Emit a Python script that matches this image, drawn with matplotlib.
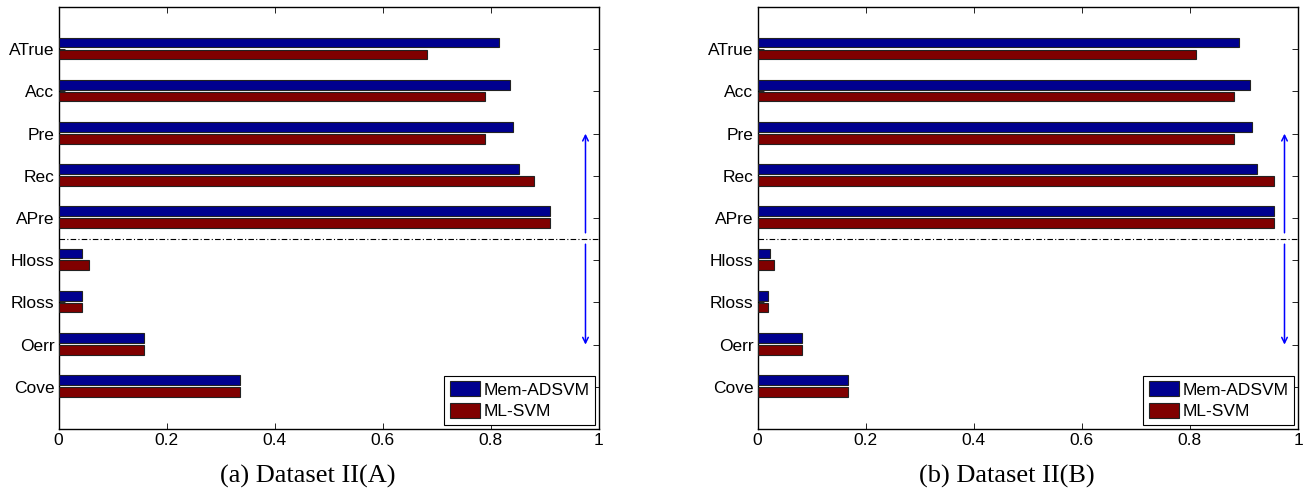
import numpy as np
import matplotlib
matplotlib.use("Agg")
import matplotlib.pyplot as plt

# metric names, bottom to top on the y axis
METRICS = ["Cove", "Oerr", "Rloss", "Hloss", "APre", "Rec", "Pre", "Acc", "ATrue"]

# values, same order as METRICS
A_MEM = [0.336, 0.158, 0.043, 0.043, 0.909, 0.852, 0.841, 0.836, 0.815]
A_ML = [0.336, 0.158, 0.043, 0.057, 0.909, 0.879, 0.790, 0.789, 0.682]
B_MEM = [0.168, 0.082, 0.019, 0.022, 0.955, 0.924, 0.914, 0.911, 0.891]
B_ML = [0.168, 0.082, 0.019, 0.031, 0.955, 0.955, 0.882, 0.882, 0.811]

SERIES = ["Mem-ADSVM", "ML-SVM"]
CAPTIONS = ["(a) Dataset II(A)", "(b) Dataset II(B)"]
XTICKS = [0, 0.2, 0.4, 0.6, 0.8, 1]
XTICKLABELS = ["0", "0.2", "0.4", "0.6", "0.8", "1"]

BLUE, RED = "#00008f", "#800000"
SANS = "Liberation Sans"
SERIF = "Liberation Serif"
FS = 12.5


def panel(ax, mem, ml):
    y = np.arange(1, len(METRICS) + 1)
    h = 0.23
    ax.barh(y + 0.16, mem, h, color=BLUE, edgecolor="#222222", lw=0.8,
            label=SERIES[0], zorder=3)
    ax.barh(y - 0.12, ml, h, color=RED, edgecolor="#222222", lw=0.8,
            label=SERIES[1], zorder=3)

    # separator between "higher is better" and "lower is better" metrics
    ax.axhline(4.5, color="black", lw=0.8, ls=(0, (5, 2, 1, 2)), zorder=2)
    ax.annotate("", xy=(0.975, 7.0), xytext=(0.975, 4.65),
                arrowprops=dict(arrowstyle="->", color="blue", lw=1.1,
                                shrinkA=0, shrinkB=0, mutation_scale=10))
    ax.annotate("", xy=(0.975, 2.0), xytext=(0.975, 4.38),
                arrowprops=dict(arrowstyle="->", color="blue", lw=1.1,
                                shrinkA=0, shrinkB=0, mutation_scale=10))

    ax.set_xlim(0, 1)
    ax.set_ylim(0, 10)
    ax.set_yticks(y)
    ax.set_yticklabels(METRICS, fontsize=FS, family=SANS)
    ax.set_xticks(XTICKS)
    ax.set_xticklabels(XTICKLABELS, fontsize=FS, family=SANS)
    ax.tick_params(direction="in", top=True, right=True, length=4,
                   width=0.6, pad=3)
    for s in ax.spines.values():
        s.set_linewidth(1.0)
    leg = ax.legend(loc="lower right", frameon=True, fancybox=False,
                    edgecolor="black", framealpha=1, borderaxespad=0.25,
                    prop=dict(family=SANS, size=FS), handlelength=1.75,
                    handleheight=1.0, handletextpad=0.2, labelspacing=0.3,
                    borderpad=0.3)
    leg.get_frame().set_linewidth(0.8)


fig = plt.figure(figsize=(13.09, 4.90), dpi=100, facecolor="white")
ax1 = fig.add_axes([0.0447, 0.1245, 0.4129, 0.861])
ax2 = fig.add_axes([0.5788, 0.1245, 0.4128, 0.861])
panel(ax1, A_MEM, A_ML)
panel(ax2, B_MEM, B_ML)
# captions sit a little left of each axes centre, as in the source figure
for ax, cap in zip((ax1, ax2), CAPTIONS):
    pos = ax.get_position()
    fig.text((pos.x0 + pos.x1) / 2 - 0.016, 0.016, cap, ha="center",
             va="baseline", fontsize=19, family=SERIF)
fig.savefig("out.png", dpi=100, facecolor="white")
